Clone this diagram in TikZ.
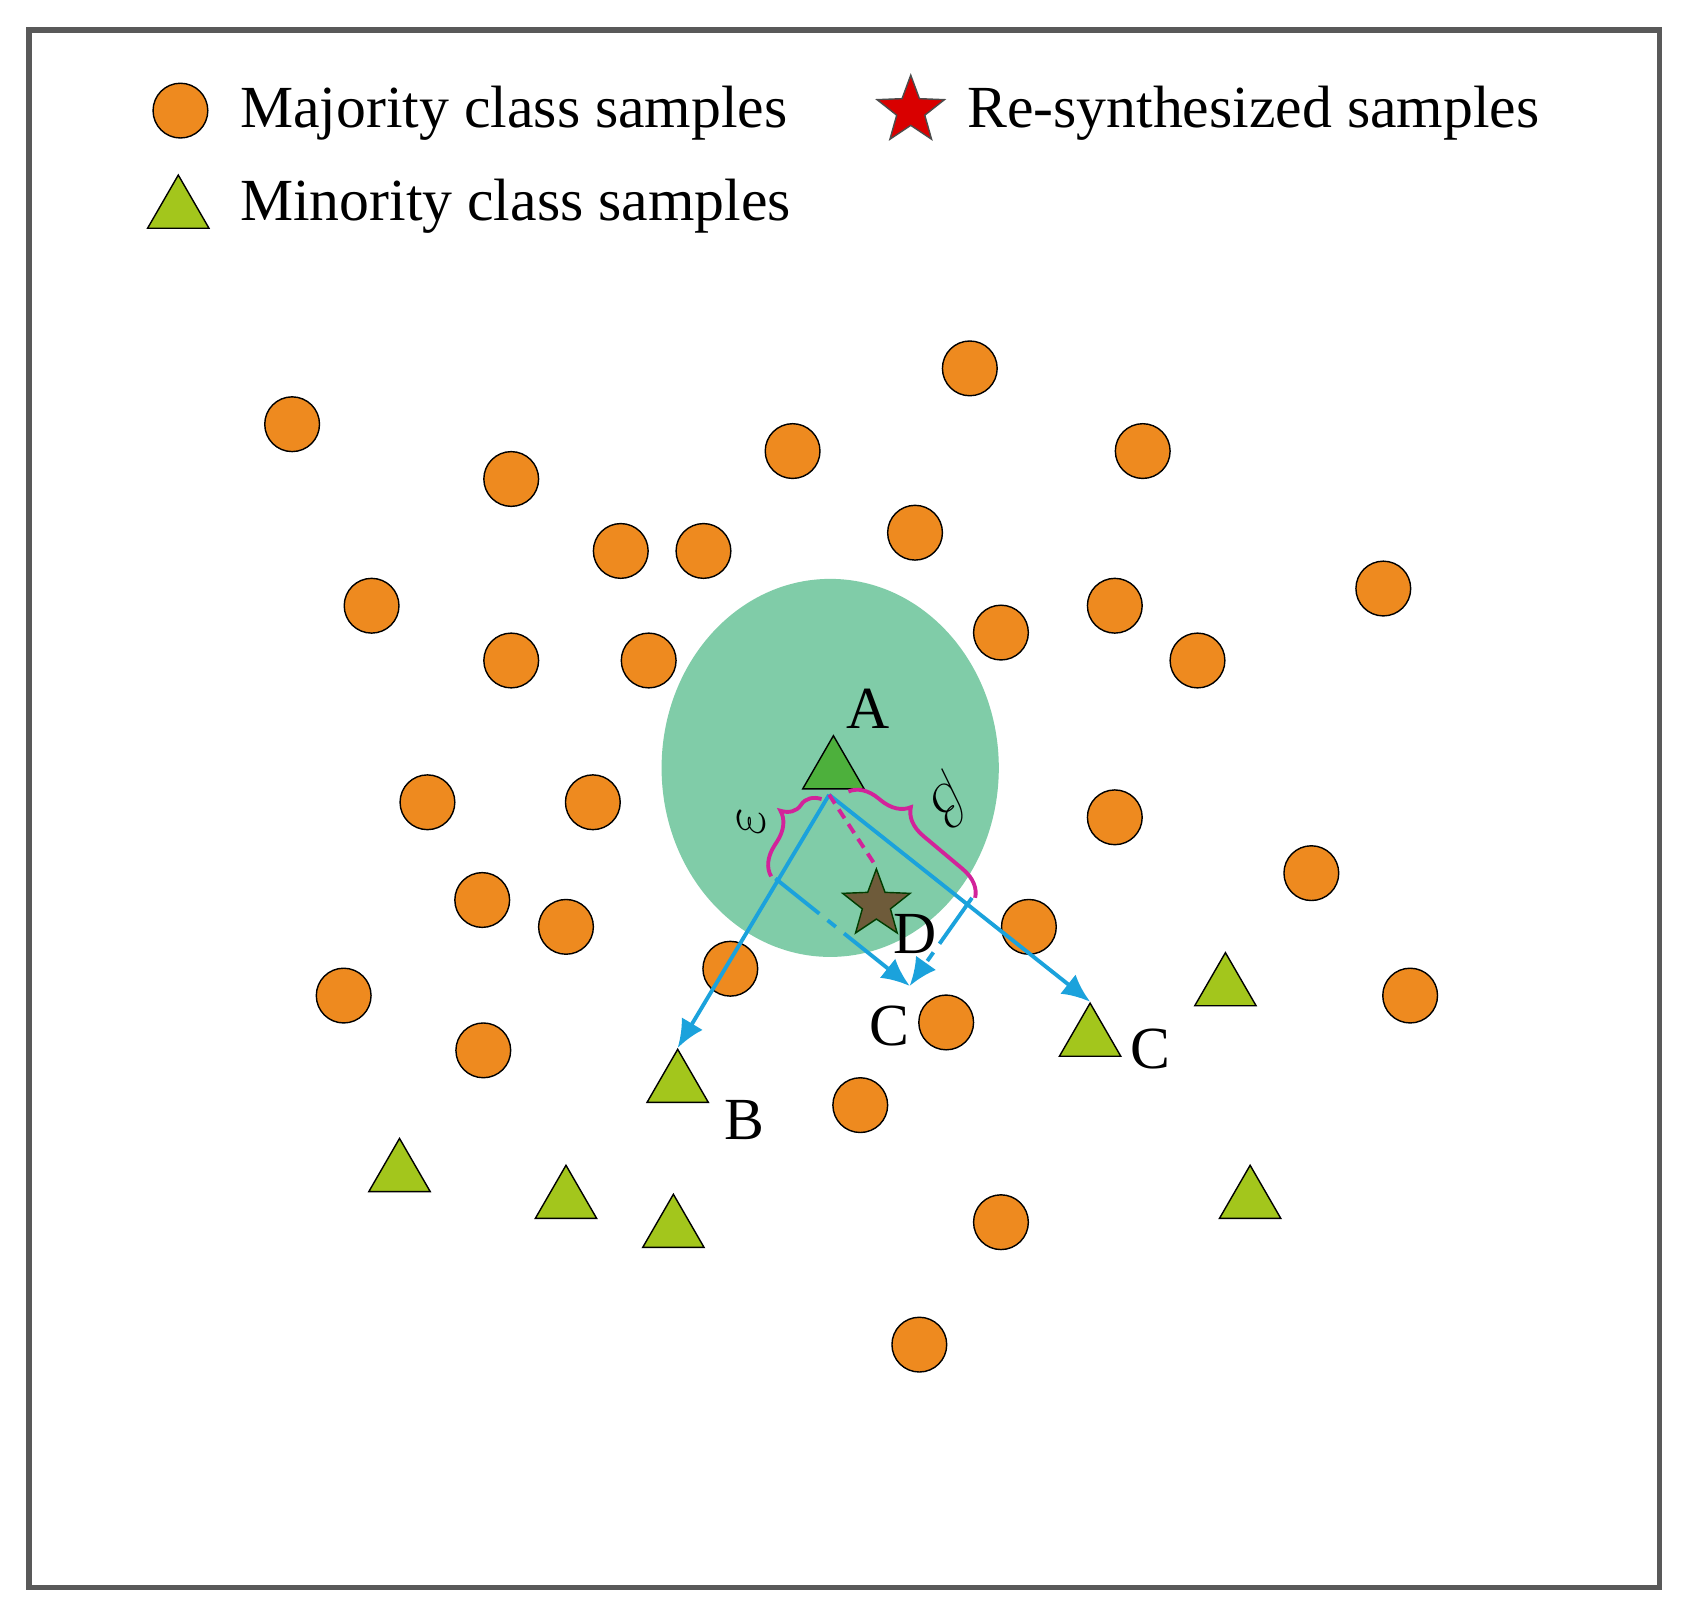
\documentclass[tikz,border=0pt]{standalone}
\usepackage{fontspec}
\setmainfont{Liberation Serif}
\usepackage{tikz}
\usetikzlibrary{arrows.meta,shapes.geometric,decorations.pathreplacing}
\definecolor{majcol}{HTML}{EE8A1F}
\definecolor{mincol}{HTML}{A3C61C}
\definecolor{acol}{HTML}{4DB03C}
\definecolor{zonecol}{HTML}{80CCA8}
\definecolor{linkcol}{HTML}{1BA2DC}
\definecolor{bracecol}{HTML}{D2239A}
\definecolor{starcol}{HTML}{6E5B3A}
\newlength{\pxunit}
\setlength{\pxunit}{0.1074mm}
\tikzset{
  maj/.style={circle,draw=black,fill=majcol,minimum size=51\pxunit,inner sep=0pt},
  mino/.style={regular polygon,regular polygon sides=3,draw=black,fill=mincol,minimum size=66\pxunit,inner sep=0pt},
  lbl/.style={font=\fontsize{17}{20}\selectfont},
  link/.style={linkcol,line width=1.1pt,-{Latex[length=8pt,width=7pt]}},
  mbrace/.style={bracecol,line width=1.1pt,decorate,decoration={brace,amplitude=8pt,aspect=0.35}}
}
\begin{document}
\begin{tikzpicture}[x=0.01074cm,y=-0.01074cm]
\useasboundingbox (0,0) rectangle (1568,1510);
\fill[white] (0,0) rectangle (1568,1510);
\draw[line width=1.6pt,draw=black!65] (27,28) rectangle (1545,1478);
% legend
\node[maj] (legmaj) at (168,103) {};
\node[lbl,anchor=west] (legmajt) at (212,105) {Majority class samples};
\node[mino] (legmin) at (166,196) {};
\node[lbl,anchor=west] (legmint) at (212,192) {Minority class samples};
\node[star,star points=5,star point ratio=2.4,draw=black!70,fill=red!85!black,minimum size=66\pxunit,inner sep=0pt] (legstar) at (848,103) {};
\node[lbl,anchor=west] (legstart) at (889,105) {Re-synthesized samples};
% neighbourhood of A
\fill[zonecol] (773,715) ellipse [x radius=157,y radius=176];
% majority samples
\foreach \x/\y [count=\i] in {272/395,476/446,738/420,903/343,1064/420,578/513,655/513,852/496,
  346/564,476/615,604/615,932/589,1038/564,1115/615,1288/548,398/747,552/747,1038/761,
  1221/813,449/838,527/863,958/863,320/927,680/902,881/952,1313/927,450/978,801/1029,
  932/1138,856/1252}
  \node[maj] (m\i) at (\x,\y) {};
% minority samples
\foreach \x/\y [count=\i] in {1141/920,372/1093,527/1118,627/1145,1164/1118}
  \node[mino] (t\i) at (\x,\y) {};
\node[mino] (B) at (631,1010) {};
\node[mino] (C) at (1015,967) {};
\node[mino,fill=acol] (A) at (776,718) {};
\coordinate (a0) at (772,740);
\coordinate (e1) at (722,818);
\coordinate (b1) at (905,836);
\coordinate (c0) at (847,918);
\node[star,star points=5,star point ratio=2.4,draw=black!60!green!60!black,fill=starcol,minimum size=66\pxunit,inner sep=0pt] (D) at (816,842) {};
% links
\draw[link] (a0) -- (B.north);
\draw[link] (a0) -- (C.north);
\draw[link,dashed,dash pattern=on 16pt off 3pt on 3pt off 3pt] (e1) -- (c0);
\draw[link,dashed,dash pattern=on 16pt off 3pt on 3pt off 3pt] (b1) -- (c0);
\draw[bracecol,line width=1.1pt,densely dashed] (a0) -- (D.north);
\draw[mbrace,decoration={mirror}] (765,744) -- (718,816);
\draw[mbrace] (790,737) -- (908,836);
% labels
\node[lbl] (la) at (808,660) {A};
\node[lbl] (lb) at (693,1043) {B};
\node[lbl] (lc1) at (828,955) {C};
\node[lbl] (lc2) at (1071,977) {C};
\node[lbl] (ld) at (852,870) {D};
\node[font=\fontsize{19}{22}\selectfont,rotate=90] (leps) at (700,765) {$\varepsilon$};
\node[font=\fontsize{19}{22}\selectfont,rotate=220] (lbeta) at (882,745) {$\beta$};
\end{tikzpicture}
\end{document}
